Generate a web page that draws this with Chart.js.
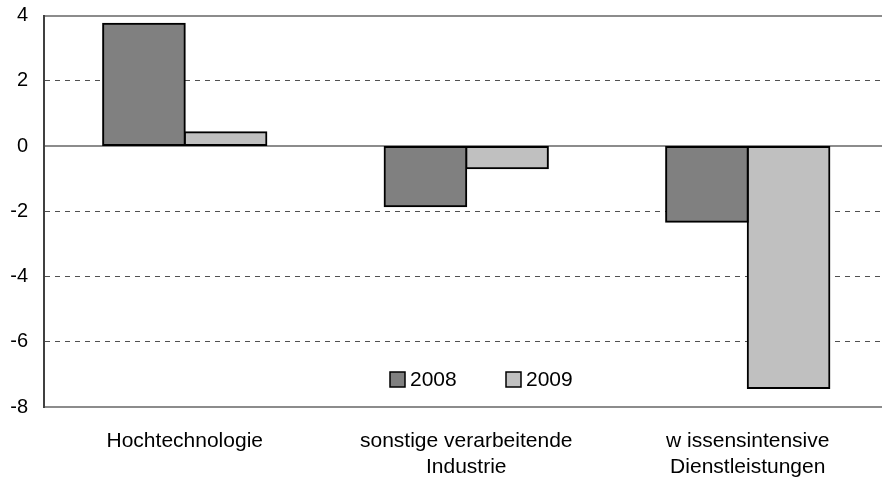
<!DOCTYPE html>
<html><head><meta charset="utf-8">
<script src="https://cdn.jsdelivr.net/npm/chart.js@4/dist/chart.umd.min.js"></script>
<style>html,body{margin:0;padding:0;background:#fff;overflow:hidden}#wrap{position:relative;width:890px;height:480px}</style>
</head><body><div id="wrap"><canvas id="c"></canvas></div>
<script>
const categories = ["Hochtechnologie", ["sonstige verarbeitende", "Industrie"], ["w issensintensive", "Dienstleistungen"]];
const seriesNames = ["2008", "2009"];
const values2008 = [3.75, -1.85, -2.32];
const values2009 = [0.42, -0.68, -7.42];
const yMin = -8, yMax = 4, yStep = 2;
const solidLines = [4, 0, -8];

const FONT = "'Liberation Sans', Arial, sans-serif";

const legendPlugin = {
  id: 'innerLegend',
  afterDatasetsDraw(chart) {
    const ctx = chart.ctx, a = chart.chartArea;
    const offs = [346, 462];
    ctx.save();
    chart.data.datasets.forEach((ds, i) => {
      const x = a.left + offs[i], y = a.bottom - 35;
      ctx.fillStyle = ds.backgroundColor;
      ctx.fillRect(x, y, 15, 15);
      ctx.lineWidth = 1.5;
      ctx.strokeStyle = '#000';
      ctx.strokeRect(x, y, 15, 15);
      ctx.fillStyle = '#000';
      ctx.font = '21px ' + FONT;
      ctx.textBaseline = 'middle';
      ctx.textAlign = 'left';
      ctx.fillText(ds.label, x + 20, y + 8);
    });
    ctx.restore();
  }
};

new Chart(document.getElementById('c'), {
  type: 'bar',
  data: {
    labels: categories,
    datasets: [
      { label: seriesNames[0], data: values2008, backgroundColor: '#808080', borderColor: '#000', borderWidth: 2, borderSkipped: false, inflateAmount: 1 },
      { label: seriesNames[1], data: values2009, backgroundColor: '#c0c0c0', borderColor: '#000', borderWidth: 2, borderSkipped: false, inflateAmount: 1 }
    ]
  },
  options: {
    responsive: true,
    maintainAspectRatio: false,
    animation: false,
    layout: { padding: { top: 15.5, right: 1.5, left: 0, bottom: 0 } },
    datasets: { bar: { categoryPercentage: 0.58, barPercentage: 1.0 } },
    plugins: { legend: { display: false }, tooltip: { enabled: false } },
    scales: {
      x: {
        grid: { display: false, drawTicks: false },
        border: { display: true, color: '#8c8c8c', width: 2 },
        ticks: { color: '#000', font: { family: FONT, size: 21 }, padding: 22, maxRotation: 0, autoSkip: false },
        afterFit(s) { s.height = 73; s.paddingLeft = 0; s.paddingRight = 0; }
      },
      y: {
        min: yMin, max: yMax,
        ticks: { stepSize: yStep, color: '#000', font: { family: FONT, size: 20 }, padding: 16 },
        grid: {
          drawTicks: false,
          color: c => (c.tick && solidLines.includes(c.tick.value)) ? '#8c8c8c' : '#505050',
          lineWidth: c => (c.tick && solidLines.includes(c.tick.value)) ? 2 : 1
        },
        border: {
          display: true, color: '#404040', width: 2,
          dash: c => (c.tick && !solidLines.includes(c.tick.value)) ? [5, 5] : []
        },
        afterFit(s) { s.width = 44; s.paddingTop = 0; s.paddingBottom = 0; }
      }
    }
  },
  plugins: [legendPlugin]
});
</script>
</body></html>
